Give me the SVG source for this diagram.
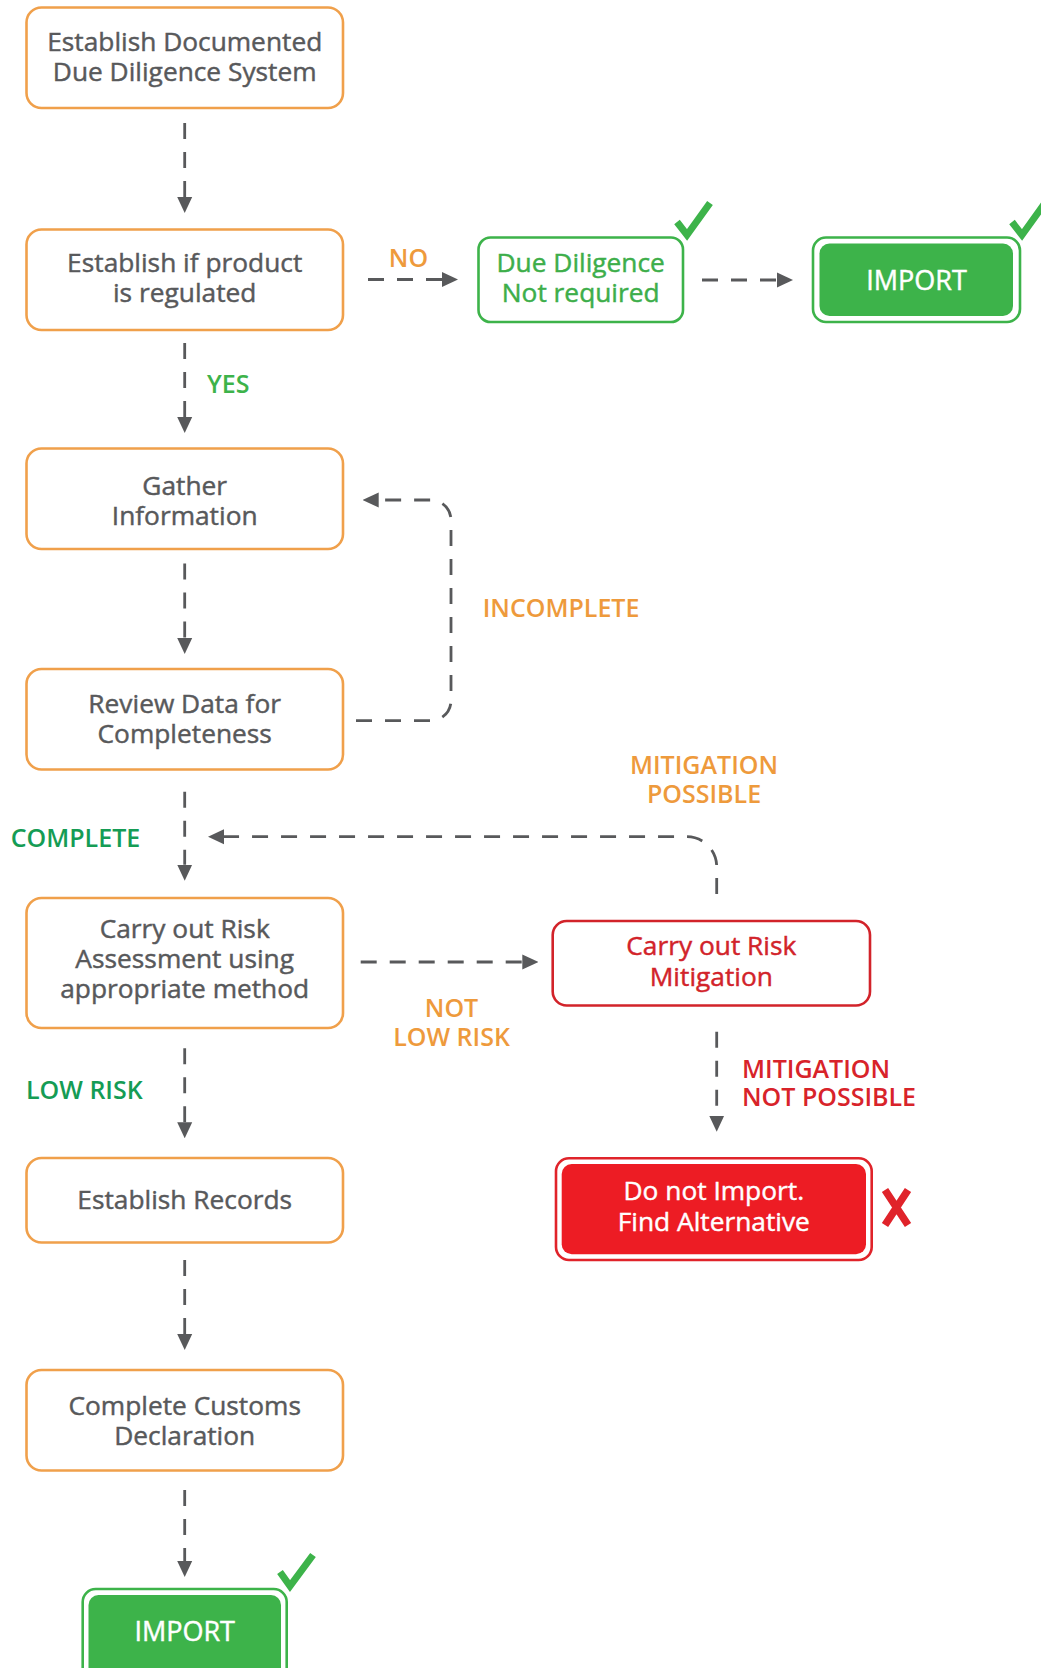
<svg xmlns="http://www.w3.org/2000/svg" width="1041" height="1668" viewBox="0 0 1041 1668">
<style>
.box{fill:#fff;stroke:#F0A04B;stroke-width:2.6}
.t{font-family:"Open Sans","Liberation Sans",sans-serif;font-size:26.3px;fill:#58595B;stroke:#58595B;stroke-width:0.45;text-anchor:middle}
.w{fill:#fff;stroke:#fff;font-size:27px}
.g{fill:#3DAE4A;stroke:#3DAE4A}
.r{fill:#D2232A;stroke:#D2232A}
.lbl{font-family:"Open Sans","Liberation Sans",sans-serif;font-size:25px;font-weight:600}
.or{fill:#EE9A3C}
.gl{fill:#3DB34A}
.gd{fill:#159C55}
.rd{fill:#D8232A}
.c{fill:none;stroke:#58595B;stroke-width:2.8;stroke-dasharray:16 13;marker-end:url(#ah)}
.chk{fill:none;stroke:#3DB34A;stroke-width:7;stroke-linecap:butt;stroke-linejoin:miter}
</style>
<defs>
<marker id="ah" markerUnits="userSpaceOnUse" markerWidth="16" markerHeight="16" refX="0" refY="8" orient="auto" viewBox="0 0 16 16">
<path d="M0,0.5 L16,8 L0,15.5 Z" fill="#58595B"/>
</marker>
</defs>
<rect width="1041" height="1668" fill="#fff"/>

<g id="connectors">
<path class="c" d="M184.7,123 V197"/>
<path class="c" d="M368,279.5 H442"/>
<path class="c" d="M702,280 H777"/>
<path class="c" d="M184.7,343 V417"/>
<path class="c" d="M184.7,563.5 V638"/>
<path class="c" d="M356,720.7 H431 A20,20 0 0 0 451,700.7 V520 A20,20 0 0 0 431,500 H378.7"/>
<path class="c" d="M184.7,791.7 V864.7"/>
<path class="c" d="M716.7,894 V866.7 A30,30 0 0 0 686.7,836.7 H224"/>
<path class="c" d="M360.7,962 H522.3"/>
<path class="c" d="M184.7,1048.3 V1122.3"/>
<path class="c" d="M716.7,1031.7 V1115.7"/>
<path class="c" d="M184.7,1260 V1334"/>
<path class="c" d="M184.7,1490 V1561"/>
</g>

<g id="labels">
<text class="lbl or" x="408.5" y="266.7" text-anchor="middle">NO</text>
<text class="lbl gl" x="207" y="392.7">YES</text>
<text class="lbl or" x="482.7" y="617">INCOMPLETE</text>
<text class="lbl gd" x="10.7" y="846.7">COMPLETE</text>
<text class="lbl or" x="704" y="774.3" text-anchor="middle">MITIGATION</text>
<text class="lbl or" x="704" y="802.7" text-anchor="middle">POSSIBLE</text>
<text class="lbl or" x="451.5" y="1016.7" text-anchor="middle">NOT</text>
<text class="lbl or" x="451.5" y="1046" text-anchor="middle">LOW RISK</text>
<text class="lbl gd" x="26" y="1099.3">LOW RISK</text>
<text class="lbl rd" x="742" y="1078">MITIGATION</text>
<text class="lbl rd" x="742" y="1106">NOT POSSIBLE</text>
</g>

<g id="n1">
<rect class="box" x="26.5" y="7.5" width="316.5" height="100.5" rx="15"/>
<text class="t" x="184.7" y="50.5">Establish Documented</text>
<text class="t" x="184.7" y="80.5">Due Diligence System</text>
</g>
<g id="n2">
<rect class="box" x="26.5" y="229.5" width="316.5" height="100.5" rx="15"/>
<text class="t" x="184.7" y="271.5">Establish if product</text>
<text class="t" x="184.7" y="301.5">is regulated</text>
</g>
<g id="n-due">
<rect x="478.5" y="237.5" width="204.5" height="84.5" rx="12" fill="#fff" stroke="#3DB34A" stroke-width="2.6"/>
<text class="t g" x="580.7" y="272">Due Diligence</text>
<text class="t g" x="580.7" y="302">Not required</text>
<path class="chk" d="M677,222 L687,235 L710,203"/>
</g>
<g id="n-import1">
<rect x="813" y="237.5" width="207" height="84.5" rx="13" fill="#fff" stroke="#3DB34A" stroke-width="2.6"/>
<rect x="819.5" y="243.5" width="193.5" height="72.5" rx="10" fill="#3DB34A"/>
<text class="t w" x="916.5" y="289.5">IMPORT</text>
<path class="chk" d="M1012,222 L1022,235 L1045,203"/>
</g>
<g id="n3">
<rect class="box" x="26.5" y="448.5" width="316.5" height="100.5" rx="15"/>
<text class="t" x="184.7" y="494.5">Gather</text>
<text class="t" x="184.7" y="524.5">Information</text>
</g>
<g id="n4">
<rect class="box" x="26.5" y="669" width="316.5" height="100.5" rx="15"/>
<text class="t" x="184.7" y="712.5">Review Data for</text>
<text class="t" x="184.7" y="743">Completeness</text>
</g>
<g id="n5">
<rect class="box" x="26.5" y="898" width="316.5" height="130" rx="15"/>
<text class="t" x="184.7" y="938">Carry out Risk</text>
<text class="t" x="184.7" y="968">Assessment using</text>
<text class="t" x="184.7" y="998">appropriate method</text>
</g>
<g id="n-mitig">
<rect x="552.7" y="921" width="317.3" height="84.5" rx="14" fill="#fff" stroke="#D2232A" stroke-width="2.6"/>
<text class="t r" x="711.3" y="955">Carry out Risk</text>
<text class="t r" x="711.3" y="985.5">Mitigation</text>
</g>
<g id="n-stop">
<rect x="556" y="1158.3" width="315.7" height="101.7" rx="13" fill="#fff" stroke="#E0232A" stroke-width="2.6"/>
<rect x="561.7" y="1164" width="304.3" height="90.3" rx="10" fill="#ED1C24"/>
<text class="t w" x="713.8" y="1200" style="font-size:26.3px">Do not Import.</text>
<text class="t w" x="713.8" y="1231" style="font-size:26.3px">Find Alternative</text>
<path d="M885,1190 L908,1225 M908,1190 L885,1225" stroke="#E0232A" stroke-width="7.5" fill="none"/>
</g>
<g id="n6">
<rect class="box" x="26.5" y="1158" width="316.5" height="84.5" rx="15"/>
<text class="t" x="184.7" y="1208.5">Establish Records</text>
</g>
<g id="n7">
<rect class="box" x="26.5" y="1370" width="316.5" height="100.5" rx="15"/>
<text class="t" x="184.7" y="1414.5">Complete Customs</text>
<text class="t" x="184.7" y="1444.5">Declaration</text>
</g>
<g id="n-import2">
<rect x="82.7" y="1589" width="204" height="100" rx="13" fill="#fff" stroke="#3DB34A" stroke-width="2.6"/>
<rect x="88.5" y="1595" width="192.5" height="90" rx="10" fill="#3DB34A"/>
<text class="t w" x="184.7" y="1641">IMPORT</text>
<path class="chk" d="M280,1572 L290,1586 L313,1555"/>
</g>
</svg>
